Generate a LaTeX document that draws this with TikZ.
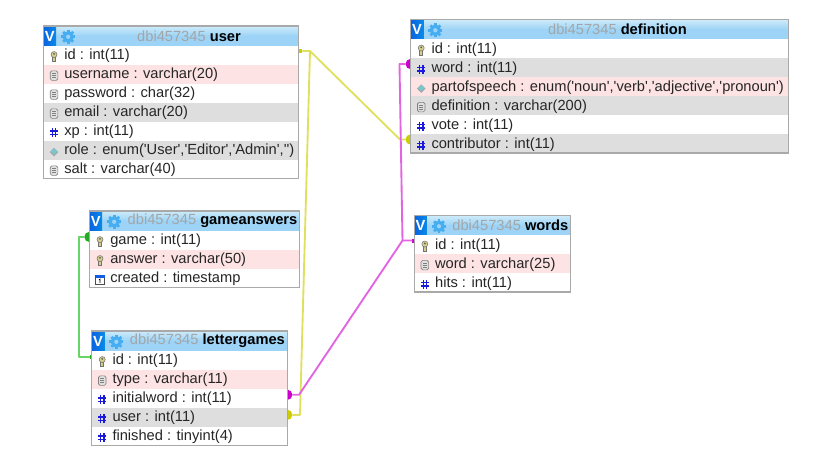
\documentclass[tikz,border=0pt]{standalone}
\usepackage{fontspec}
\usepackage{xcolor}
\usetikzlibrary{fit,backgrounds}
\newfontfamily\dbfont{Liberation Sans}
\definecolor{rowpink}{HTML}{FDE3E3}
\definecolor{rowgray}{HTML}{DEDEDE}
\definecolor{boxgray}{HTML}{A9A9A9}
\definecolor{headtop}{HTML}{CDEBFA}
\definecolor{headblue}{HTML}{9CD3F6}
\definecolor{titlegray}{HTML}{A2A6A8}
\definecolor{vblue}{HTML}{0B63E0}
\definecolor{gearblue}{HTML}{46ADF0}
\definecolor{hashblue}{HTML}{1A1ADD}
\definecolor{keypale}{HTML}{D6CF8C}
\definecolor{enumteal}{HTML}{74C8CE}
\definecolor{mylink}{HTML}{E264E2}
\definecolor{mydot}{HTML}{CC00CC}
\definecolor{ylink}{HTML}{E0E060}
\definecolor{ydot}{HTML}{CCCC00}
\definecolor{glink}{HTML}{66D466}
\definecolor{gdot}{HTML}{22AA22}
\tikzset{
  dbrow/.style={anchor=north west,minimum height=14.25pt,inner sep=0pt,outer sep=0pt},
  dbhead/.style={anchor=north west,minimum height=15pt,inner sep=0pt,outer sep=0pt,
    top color=headtop,bottom color=headblue,middle color=headblue},
  dbtext/.style={anchor=base west,inner sep=0pt,text=black!85,font=\dbfont\fontsize{11}{12}\selectfont},
  dbtitle/.style={anchor=center,inner sep=0pt,font=\dbfont\fontsize{11}{12}\selectfont},
  dbv/.style={anchor=west,minimum width=9.5pt,minimum height=15pt,inner sep=0pt,outer sep=0pt,
    left color=vblue,right color=vblue!75!cyan,text=white,font=\dbfont\bfseries\fontsize{11}{12}\selectfont},
  dbbox/.style={draw=boxgray,line width=0.9pt,inner sep=0pt},
  bigdot/.style={circle,minimum size=7.8pt,inner sep=0pt,outer sep=0pt},
  smalldot/.style={rectangle,minimum size=3pt,inner sep=0pt,outer sep=0pt},
  linkline/.style={line width=1.4pt,line join=round},
  keyicon/.pic={
    \fill[keypale,draw=black!55,line width=0.4pt] (-1.5,0) rectangle (1.5,5);
    \fill[keypale,draw=black!55,line width=0.4pt] (0,-1.8) circle (3);
    \fill[black!65] (0,-2.4) circle (1);
  },
  hashicon/.pic={
    \draw[hashblue,line width=1pt] (-1.6,-4) -- (-1.6,5) (1.6,-4) -- (1.6,5)
      (-3.8,-1.3) -- (3.8,-1.3) (-3.8,2.2) -- (3.8,2.2);
  },
  docicon/.pic={
    \draw[black!50,fill=black!12,rounded corners=1.2pt,line width=0.5pt] (-3.8,-4.5) rectangle (3.8,5);
    \draw[black!50,line width=0.4pt] (-2,-2) -- (2,-2) (-2,0.2) -- (2,0.2) (-2,2.4) -- (2,2.4);
  },
  enumicon/.pic={
    \fill[black!35] (-4.3,0.8) -- (0,-3.5) -- (4.3,0.8) -- (0,5.1) -- cycle;
    \fill[enumteal] (-3.2,0.2) -- (0,-3) -- (3.2,0.2) -- (0,3.4) -- cycle;
  },
  timeicon/.pic={
    \draw[black!70,fill=white,line width=0.5pt] (-4.5,-4) rectangle (4.5,5);
    \fill[hashblue!70!cyan] (-4.5,-4) rectangle (4.5,-1.6);
    \draw[black,line width=0.5pt] (-1,0.5) -- (0,-0.3) -- (0,3.5);
  },
  gearicon/.pic={
    \draw[gearblue,line width=2.4pt] (0,0) circle (4);
    \foreach \a in {0,45,...,315}
      \draw[gearblue,line width=2pt] (\a:4.5) -- (\a:7);
  },
}
% name, x, y, width, rows, title, list of rows
\newcommand{\dbtable}[7]{
  \node[dbhead,minimum width=#4*0.75pt] (#1-hdr) at (#2,#3) {};
  \node[dbv] (#1-v) at (#1-hdr.west) {V};
  \pic at ([xshift=18.5pt,yshift=-0.6pt]#1-hdr.west) {gearicon};
  \node[dbtitle] (#1-title) at ([xshift={(#4+36)*0.375pt}]#1-hdr.west)
    {\textcolor{titlegray}{dbi457345} \textbf{#6}};
  \foreach \ic/\txt/\bg [count=\i] in {#7} {
    \node[dbrow,fill=\bg,minimum width=#4*0.75pt] (#1-\i) at (#2,{#3+19.5+19*(\i-1)}) {};
    \pic at ([xshift=7.9pt,yshift=-1pt]#1-\i.west) {\ic};
    \node[dbtext] (#1-\i-t) at ([xshift=15.4pt,yshift=-3.7pt]#1-\i.west) {\txt};
  }
  \node[dbbox,fit=(#1-hdr)(#1-#5)] (#1) {};
}
\begin{document}
\begin{tikzpicture}[x=0.75pt,y=-0.75pt]
\useasboundingbox (0,0) rectangle (826,472);
\dbtable{user}{43.5}{26}{255}{7}{user}{
  keyicon/{id : int(11)}/white,
  docicon/{username : varchar(20)}/rowpink,
  docicon/{password : char(32)}/white,
  docicon/{email : varchar(20)}/rowgray,
  hashicon/{xp : int(11)}/white,
  enumicon/{role : enum('User','Editor','Admin','')}/rowgray,
  docicon/{salt : varchar(40)}/white}
\dbtable{definition}{410.7}{19.5}{377.5}{6}{definition}{
  keyicon/{id : int(11)}/white,
  hashicon/{word : int(11)}/rowgray,
  enumicon/{partofspeech : enum('noun','verb','adjective','pronoun')}/rowpink,
  docicon/{definition : varchar(200)}/rowgray,
  hashicon/{vote : int(11)}/white,
  hashicon/{contributor : int(11)}/rowgray}
\dbtable{gameanswers}{89.5}{211}{210}{3}{gameanswers}{
  keyicon/{game : int(11)}/white,
  keyicon/{answer : varchar(50)}/rowpink,
  timeicon/{created : timestamp}/white}
\dbtable{lettergames}{91.7}{331}{195.5}{5}{lettergames}{
  keyicon/{id : int(11)}/white,
  docicon/{type : varchar(11)}/rowpink,
  hashicon/{initialword : int(11)}/white,
  hashicon/{user : int(11)}/rowgray,
  hashicon/{finished : tinyint(4)}/white}
\dbtable{words}{414.3}{215.5}{156}{3}{words}{
  keyicon/{id : int(11)}/white,
  docicon/{word : varchar(25)}/rowpink,
  hashicon/{hits : int(11)}/white}
\begin{pgfonlayer}{background}
\node[smalldot,fill=ydot] (userdot) at ([xshift=1.4pt,yshift=3pt]user-1.east) {};
\node[bigdot,fill=ydot] (lguserdot) at ([yshift=1.6pt]lettergames-4.east) {};
\node[bigdot,fill=ydot] (contribdot) at ([yshift=3pt]definition-6.west) {};
\node[bigdot,fill=mydot] (wordfkdot) at ([yshift=2.6pt]definition-2.west) {};
\node[bigdot,fill=mydot] (initialdot) at ([yshift=2.4pt]lettergames-3.east) {};
\node[smalldot,fill=mydot] (wordsdot) at ([yshift=3pt]words-1.west) {};
\node[bigdot,fill=gdot] (gamedot) at ([yshift=2.3pt]gameanswers-1.west) {};
\node[smalldot,fill=gdot] (lgiddot) at ([yshift=2pt]lettergames-1.west) {};
\coordinate (yfork) at (310,0 |- userdot);
\coordinate (ylow) at (300,0 |- lguserdot);
\coordinate (yright) at (400,0 |- contribdot);
\coordinate (mtop) at (399.5,0 |- wordfkdot);
\coordinate (mfork) at (402.5,0 |- wordsdot);
\coordinate (mlow) at (299,0 |- initialdot);
\coordinate (gtop) at (79,0 |- gamedot);
\coordinate (glow) at (79,0 |- lgiddot);
\draw[linkline,ylink] (userdot) -- (yfork) -- (ylow) -- (lguserdot);
\draw[linkline,ylink] (yfork) -- (yright) -- (contribdot);
\draw[linkline,mylink] (wordfkdot) -- (mtop) -- (mfork) -- (wordsdot);
\draw[linkline,mylink] (mfork) -- (mlow) -- (initialdot);
\draw[linkline,glink] (gamedot) -- (gtop) -- (glow) -- (lgiddot);
\end{pgfonlayer}
\end{tikzpicture}
\end{document}
